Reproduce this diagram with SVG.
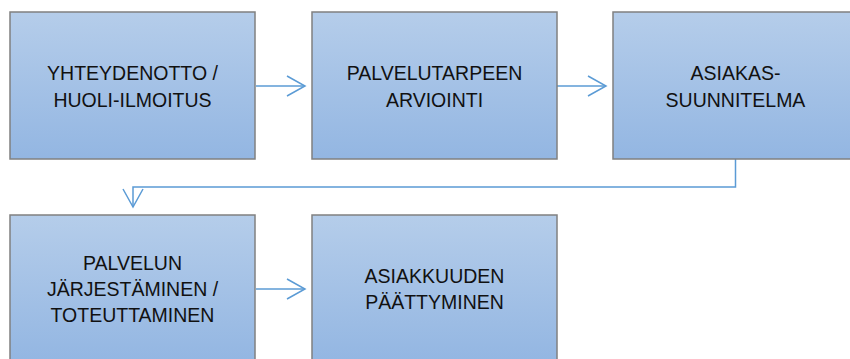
<svg xmlns="http://www.w3.org/2000/svg" width="850" height="359" viewBox="0 0 850 359">
<defs>
<linearGradient id="fill" x1="0" y1="0" x2="0" y2="1">
<stop offset="0" stop-color="#b5cdea"/>
<stop offset="1" stop-color="#93b6e2"/>
</linearGradient>
<marker id="arr" markerUnits="userSpaceOnUse" markerWidth="24" markerHeight="26" viewBox="-20 -12 24 24" refX="0" refY="0" orient="auto">
<path d="M-18,-10 L0,0 L-18,10" fill="none" stroke="#5b9bd5" stroke-width="1.5"/>
</marker>
</defs>
<style>
.box{fill:url(#fill);stroke:#808080;stroke-width:1.5}
.lbl{font-family:"Liberation Sans",Arial,sans-serif;font-size:19.5px;fill:#111;text-anchor:middle}
.conn{fill:none;stroke:#5b9bd5;stroke-width:1.5;marker-end:url(#arr)}
</style>
<rect width="850" height="359" fill="#fff"/>
<g id="connectors">
<line class="conn" x1="256" y1="86" x2="305" y2="86"/>
<line class="conn" x1="557" y1="86" x2="606" y2="86"/>
<polyline class="conn" points="735.5,159 735.5,187 133,187 133,207"/>
<line class="conn" x1="256" y1="289" x2="305" y2="289"/>
</g>
<g id="n1">
<rect class="box" x="10" y="12" width="245" height="147"/>
<text class="lbl" x="132.5" y="80">YHTEYDENOTTO /</text>
<text class="lbl" x="132.5" y="106.5">HUOLI-ILMOITUS</text>
</g>
<g id="n2">
<rect class="box" x="312" y="12" width="245" height="147"/>
<text class="lbl" x="434.5" y="80">PALVELUTARPEEN</text>
<text class="lbl" x="434.5" y="106.5">ARVIOINTI</text>
</g>
<g id="n3">
<rect class="box" x="613" y="12" width="245" height="147"/>
<text class="lbl" x="735.5" y="80">ASIAKAS-</text>
<text class="lbl" x="735.5" y="106.5">SUUNNITELMA</text>
</g>
<g id="n4">
<rect class="box" x="10" y="215" width="245" height="147"/>
<text class="lbl" x="132.5" y="270">PALVELUN</text>
<text class="lbl" x="132.5" y="296">JÄRJESTÄMINEN /</text>
<text class="lbl" x="132.5" y="322">TOTEUTTAMINEN</text>
</g>
<g id="n5">
<rect class="box" x="312" y="215" width="245" height="147"/>
<text class="lbl" x="434.5" y="283">ASIAKKUUDEN</text>
<text class="lbl" x="434.5" y="309">PÄÄTTYMINEN</text>
</g>
</svg>
